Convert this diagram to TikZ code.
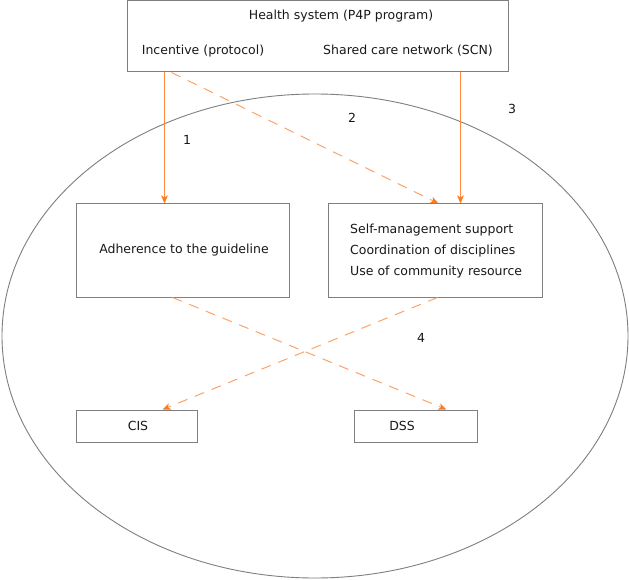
\documentclass[tikz,border=0pt]{standalone}
\usepackage{fontspec}
\setmainfont{DejaVu Sans}
\usetikzlibrary{arrows.meta,shapes.geometric}
\definecolor{boxgray}{HTML}{7F7F7F}
\definecolor{orsolid}{HTML}{FF8A3D}
\definecolor{ordash}{HTML}{FBA468}
\definecolor{orhead}{HTML}{FF7A1E}
\tikzset{
  box/.style={draw=boxgray, line width=1pt, rectangle, inner sep=0pt},
  txt/.style={inner sep=0pt, font=\fontsize{12.5}{15}\selectfont, text=black!90},
  solidarr/.style={draw=orsolid, line width=1pt, -{Stealth[length=8pt,width=6.5pt,inset=2pt,fill=orhead,color=orhead]}},
  dasharr/.style={draw=ordash, line width=1pt, dash pattern=on 10pt off 8pt, -{Stealth[length=8pt,width=6.5pt,inset=2pt,fill=orhead,color=orhead]}},
}
\begin{document}
\begin{tikzpicture}[x=1pt,y=-1pt]
\useasboundingbox (0,0) rectangle (629,580);
\fill[white] (0,0) rectangle (629,580);
% ellipse
\node[ellipse, draw=boxgray, line width=0.9pt, minimum width=626pt, minimum height=484pt, inner sep=0pt] (ell) at (315,336) {};
% top box
\node[box, minimum width=381pt, minimum height=71pt] (top) at (317.5,36.5) {};
\node[txt] (hs) at (341,16) {Health system (P4P program)};
\node[txt] (inc) at (203,51) {Incentive (protocol)};
\node[txt] (scn) at (408,51) {Shared care network (SCN)};
% middle boxes
\node[box, minimum width=213pt, minimum height=93pt] (adh) at (182.5,250.5) {};
\node[txt] (adht) at (184,250) {Adherence to the guideline};
\node[box, minimum width=214pt, minimum height=93pt] (scm) at (435,250.5) {};
\node[txt, anchor=west, align=left, font=\fontsize{12.5}{21}\selectfont] (scmt) at (350,251) {Self-management support\\Coordination of disciplines\\Use of community resource};
% bottom boxes
\node[box, minimum width=121pt, minimum height=32pt] (cis) at (136.5,426) {};
\node[txt] (cist) at (138,426) {CIS};
\node[box, minimum width=123pt, minimum height=32pt] (dss) at (415.5,426) {};
\node[txt] (dsst) at (402,426) {DSS};
% labels
\node[txt] (l1) at (187,140) {1};
\node[txt] (l2) at (352,118) {2};
\node[txt] (l3) at (512,109) {3};
\node[txt] (l4) at (421,338) {4};
% connectors
\draw[solidarr] ([xshift=38pt]top.south west) -- ([xshift=89pt]adh.north west);
\draw[solidarr] ([xshift=334pt]top.south west) -- ([xshift=133pt]scm.north west);
\draw[dasharr] ([xshift=45pt]top.south west) -- ([xshift=111pt]scm.north west);
\draw[dasharr] ([xshift=97pt]adh.south west) -- ([xshift=93pt]dss.north west);
\draw[dasharr] ([xshift=110pt]scm.south west) -- ([xshift=87pt]cis.north west);
\end{tikzpicture}
\end{document}
